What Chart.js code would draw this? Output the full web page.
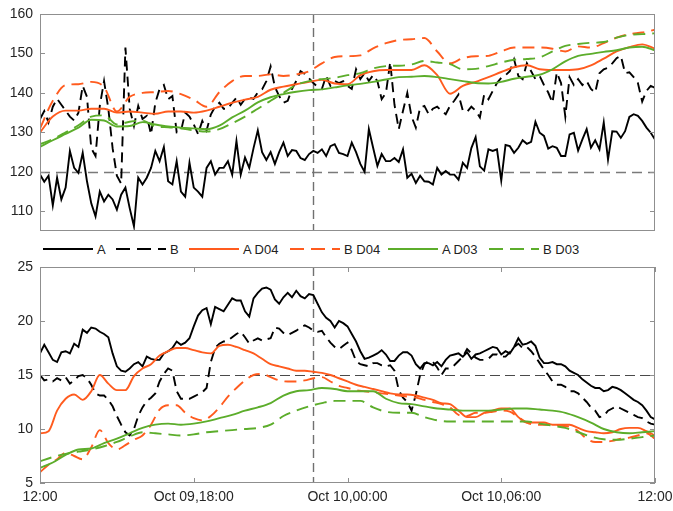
<!DOCTYPE html>
<html>
<head>
<meta charset="utf-8">
<script src="https://cdn.jsdelivr.net/npm/chart.js@4.4.1/dist/chart.umd.min.js"></script>
<style>
  body { margin: 0; background: #fff; }
  #wrap { position: relative; width: 673px; height: 511px; overflow: hidden; }
  canvas { position: absolute; left: 0; }
  #top { top: 0; }
  #bottom { top: 258px; }
  #legend { position: absolute; top: 240px; left: 0; width: 673px; height: 18px;
            font: 13px "Liberation Sans", Arial, sans-serif; color: #222; }
  .item { position: absolute; top: 0; height: 18px; display: flex; align-items: center; white-space: nowrap; }
  .item svg { margin-right: 4px; }
</style>
</head>
<body>
<div id="wrap">
  <canvas id="top" width="673" height="240"></canvas>
  <div id="legend"></div>
  <canvas id="bottom" width="673" height="253"></canvas>
</div>
<script>
// time axis: hours after Oct 09 12:00
const xTickHours = [0, 6, 12, 18, 24];
const xTickLabels = ['12:00', 'Oct 09,18:00', 'Oct 10,00:00', 'Oct 10,06:00', '12:00'];
const topTicks = [110, 120, 130, 140, 150, 160];
const bottomTicks = [5, 10, 15, 20, 25];
const markerHour = 10.65;
const topRef = 120;
const bottomRef = 15;

// sample spacing (hours)
const rawStep = 1 / 6;
const smoothStep = 0.5;
const d04BottomStep = 1 / 3;

// upper panel
const topA = [
  119.3,117.5,119,111.5,118.5,113,116,125.3,121,119.7,
  124.8,117.6,112,108.7,115,112.5,114.2,113,110.4,114.2,
  116,110.8,106.2,118.5,116.8,118.5,121,125.3,122.7,126.3,
  117.6,116.8,122.7,115,113.7,122.3,116,115,113.7,121,
  122.7,119.3,121,121,122.7,119.3,127.8,119.3,123.6,121,
  126,130.5,125,123,125,122,125,127.4,124,125.5,
  125.3,123.5,123,124.5,125.3,124.8,125.7,124,126.5,127,
  124.8,124.5,124,127.4,125,122,120,130.8,126.1,121.5,
  124.5,122.7,122.7,123.5,122.5,125.7,118.5,119.5,117.2,119,
  117.6,117.5,116.8,121,119.3,120.2,119.3,119.3,118,122.3,
  121,126,128.8,121.4,120.3,125.7,125.3,125.7,117.8,126.8,
  126.5,124.8,126.1,128,127.1,127.6,132.7,129.9,129.1,125.9,
  126.5,126.1,124,124,129.5,129.9,125.4,128.2,130.8,126.1,
  128,125.7,132.5,123.1,130.3,130.2,128.6,130.3,133.9,134.6,
  134.2,132.9,131.2,129.9,128.2
];
const topB = [
  133.4,135.4,132.5,136.5,138.5,137,135.5,134,133,135,
  141.8,139,126,124,136.7,143,136,126,119,117,
  151.5,136,131.6,136.7,133.4,134.2,129.5,137.5,141,142,
  138.4,139.2,130,130.3,135,134,132,129.6,132.9,130.5,
  134.5,136.5,137.5,136,136,137.5,138.8,137,138.5,138.8,
  138.5,140.1,140.9,143,146.7,141.5,139.2,137.5,138,141,
  143,145.5,144.8,143.7,142.5,141.5,141,144.3,141.8,143,
  142.5,143,141.8,141,146,143.5,145,143,144.5,143,
  138.4,140,147.8,137,130.8,135.5,140,134,131.2,136.3,
  136.7,134.6,136,136.5,135.5,134.6,136.7,138,139.6,135.5,
  135.2,136.5,135.5,133.8,139.6,138.4,140.5,142.5,143.8,144.5,
  145.5,148.5,144.3,143.5,147.5,145.5,143.5,144.3,142,140.1,
  137.5,145.2,142.5,134,144,142,143.5,142,143,141,
  140.1,145,146,146.4,147.5,148.8,149.4,145,145.2,144,
  142.5,137.8,140.5,141.8,141.3
];
const topAD04 = [
  130,134,135.5,135.5,136,136,135,135.3,135,134.7,
  135.3,135.3,135,135.5,136.5,137.5,138.3,139,140.8,141.6,
  142.2,142.8,143.3,142.4,142.2,144.5,145.5,145.8,145.8,145.8,
  147,144.5,139.8,141.8,142.8,144,145.3,146.5,147,146,
  145.8,145.8,146,147,148.7,150.5,151.6,152.3,151.2
];
const topBD04 = [
  131,138,142,142.2,142.8,141.5,135.3,139,140,140.2,
  140.5,139.7,138.3,136.5,140.2,143,144.3,144.3,144.7,144.3,
  144.7,145.5,147.5,149.1,149.3,149.5,151.3,152.6,153.4,153.6,
  153.9,150.5,147.5,148.8,149.3,149.4,150.5,151.5,151.5,151.5,
  151.2,150.5,151.8,151.5,152.6,154,154.9,155.3,156
];
const topAD03 = [
  126.3,128,129.6,131.2,133.2,133,131.5,131.6,132.6,132,
  131.5,131.2,131,130.8,131.7,133.8,135.5,137.6,138.9,139.7,
  140.3,140.7,140.9,141.4,141.9,142.3,142.8,143.4,144,144.1,
  144.3,144,143.5,143,142.5,142.4,142.8,143.6,144.1,144.6,
  146,148,149.4,149.9,150.4,150.8,151.5,151.7,150.8
];
const topBD03 = [
  127,128.3,130,131.8,134,134.3,132,132.7,133,131.5,
  131.3,131,130.5,130.2,130.8,132.3,134,136,138,140,
  142,143,143.5,143.8,144.5,145,146.2,146.8,146.9,147.2,
  148.1,147.7,147.3,146,146.1,146.8,147.7,148.4,148.6,149,
  150.5,151.9,152.4,152.7,152.9,154,154.7,154.9,155.1
];

// lower panel
const botA = [
  17,17.8,17.1,16.4,16.2,17.1,17.2,17,17.9,17.6,
  19.2,18.9,19.4,19.3,19,18.8,18.5,17,15.8,15.4,
  15.3,15.6,16,16.2,15.8,16.7,16.5,16.4,16.4,17,
  17.2,17.5,18.1,17.8,18,18.4,19.5,20.5,21,21.2,
  19.7,21.3,21.1,20.9,21.5,22.1,21.9,21.9,20.9,20.4,
  22.1,22.6,23,23.1,22.9,22,21.6,22.2,22.6,22.2,
  22.8,22.3,22.1,22.5,22.4,21.6,20.8,20.3,20,19.4,
  20,19.8,19.5,18.8,18.1,17.2,16.5,16.6,16.8,17,
  17.3,16.9,16.3,16.3,16.8,17.1,17.1,16.8,16,15.6,
  16.1,16.1,15.9,16.2,15.8,16.4,16.8,16.9,17,16.7,
  17.1,16.5,16.9,17,17.2,17.4,17.6,17.5,16.9,17.2,
  17,17.6,18.4,17.8,17.9,18.1,17.7,16.6,16.1,16.1,
  16.2,16,16,15.8,15.4,15.2,15,14.6,14.3,14,
  13.8,13.8,13.5,13.6,13.9,13.8,13.6,13.3,13,12.7,
  12.5,12.2,11.7,11.1,10.9
];
const botB = [
  15,14.5,14.6,14.4,14.7,14.5,14.8,14.2,14.5,14.9,
  15,14.7,14.1,13.3,13.1,13.1,12.7,12.1,11.2,10.4,
  9.7,9.4,10,11.2,12,12.6,12.9,13.3,14.4,15.1,
  15.6,15.4,13.5,12.8,12.8,12.8,13,13.2,13.4,13.8,
  16.2,17.5,17.9,18.1,18.2,18.5,18.8,19,18.5,17.9,
  18.2,18.4,18.2,18.3,18.4,19.4,19.3,18.9,18.7,18.9,
  19.1,19.4,19.6,19.4,19.1,19,19.1,18.5,18,17.6,
  17.4,17.7,18,17.3,16.3,16,15.9,15.8,16.1,16.1,
  15.9,15.8,15.9,15.4,13.6,12.9,12.5,11.7,13.2,15,
  16,16.3,16.2,15.7,15,15.6,15.6,15.9,16.3,16.7,
  17.4,17,16.6,16.4,16.4,16.5,16.9,16.9,16.7,16.7,
  17.1,17.6,17.9,17.5,17.6,17.2,16.7,16.1,15.5,15,
  14.4,14.1,14.1,13.9,13.5,13.5,13.3,12.9,12.5,12,
  11.7,11.1,11.2,11.7,11.9,12.1,11.9,11.7,11.5,11.3,
  11.1,11,10.7,10.5,10.4
];
const botAD04 = [
  9.6,9.8,11.7,12.8,13.2,12.7,13.5,15,14.2,13.6,
  13.6,14.9,15.6,16,16.8,17.2,17.5,17.5,17.3,17.1,
  17,17.7,17.8,17.6,17.3,17,16.5,16,15.8,15.6,
  15.4,15.4,15.3,15.2,15,14.7,14.4,14.1,13.9,13.7,
  13.5,13.3,13.2,13.2,13.1,12.9,12.7,12.4,12.3,11.7,
  11.1,11.1,11.5,11.7,11.9,11.9,11.1,10.6,10.6,10.6,
  10.4,10.4,10.4,10.1,9.8,9.7,9.6,9.7,10,10.1,
  10.1,9.8,9.4
];
const botBD04 = [
  6,6.7,7.2,7.8,7.5,7.2,8.3,9.9,8.7,8.1,
  8.5,9,9.4,10.4,11.8,12.2,12.2,11.5,11,10.8,
  11.2,12,13,13.8,14.5,15,15.1,14.8,14.5,14.4,
  14.4,14.5,14.7,14.8,14.4,14,13.8,13.6,13.5,13.4,
  13.3,13.2,13.1,13,12.9,12.7,12.5,12.3,12,11.3,
  11.2,11.5,11.5,11.6,11.7,11.6,11.1,10.6,10.4,10.4,
  10.4,10.3,10.2,9.8,9.1,8.8,8.8,8.9,9.1,9.2,
  9.4,9.6,9.1
];
const botAD03 = [
  6.4,6.9,7.6,8.1,8.2,8.7,9.1,9.6,10.1,10.4,
  10.5,10.4,10.5,10.7,11,11.3,11.7,12,12.4,13.1,
  13.5,13.6,13.8,13.7,13.5,13.5,13.5,12.8,12.4,12.3,
  12.1,11.9,11.8,11.7,11.7,11.7,11.8,11.9,11.9,11.8,
  11.7,11.5,11.1,10.6,10,9.7,9.6,9.7,9.8
];
const botBD03 = [
  7,7.4,7.7,7.9,8.1,8.4,8.8,9.3,9.7,9.6,
  9.5,9.4,9.5,9.7,9.8,9.9,10,10.1,10.4,11.2,
  11.7,12.1,12.4,12.6,12.6,12.6,12,11.6,11.5,11.5,
  11.1,10.8,10.7,10.7,10.7,10.7,10.7,10.7,10.7,10.5,
  10.3,10.1,9.7,9.3,9.05,9,9.1,9.25,9.4
];

const BLACK = '#000000';
const ORANGE = '#ff5b1e';
const GREEN = '#5cad2b';
const RAW_DASH = [10, 6];
const SMOOTH_DASH = [12, 7];
const FONT = '"Liberation Sans", Arial, sans-serif';

const legendItems = [
  { label: 'A', color: BLACK, dash: '', x: 43 },
  { label: 'B', color: BLACK, dash: '14 7', x: 116 },
  { label: 'A D04', color: ORANGE, dash: '', x: 189 },
  { label: 'B D04', color: ORANGE, dash: '14 7', x: 290 },
  { label: 'A D03', color: GREEN, dash: '', x: 388 },
  { label: 'B D03', color: GREEN, dash: '14 7', x: 489 }
];

function pts(values, step) {
  return values.map((v, i) => ({ x: i * step, y: v }));
}

function line(label, data, color, dash, order, smooth) {
  return {
    label, data,
    borderColor: color,
    borderWidth: 1.9,
    borderDash: dash,
    pointRadius: 0,
    fill: false,
    order,
    tension: smooth ? 0.4 : 0,
    cubicInterpolationMode: smooth ? 'monotone' : 'default'
  };
}

function panelSets(a, b, a04, b04, step04, a03, b03) {
  return [
    line('A', pts(a, rawStep), BLACK, [], 6, false),
    line('B', pts(b, rawStep), BLACK, RAW_DASH, 5, false),
    line('A D04', pts(a04, step04), ORANGE, [], 4, true),
    line('B D04', pts(b04, step04), ORANGE, SMOOTH_DASH, 3, true),
    line('A D03', pts(a03, smoothStep), GREEN, [], 2, true),
    line('B D03', pts(b03, smoothStep), GREEN, SMOOTH_DASH, 1, true)
  ];
}

// reference lines, box frame and inward tick marks
const boxPlugin = {
  id: 'box',
  beforeDatasetsDraw(chart) {
    const o = chart.options.plugins.box;
    const { ctx, chartArea: a, scales: { x, y } } = chart;
    ctx.save();
    ctx.beginPath();
    ctx.rect(a.left, a.top, a.width, a.height);
    ctx.clip();
    ctx.strokeStyle = o.refColor;
    ctx.lineWidth = o.refWidth;
    ctx.setLineDash(o.refDash);
    const yy = Math.round(y.getPixelForValue(o.refY)) + 0.5;
    ctx.beginPath(); ctx.moveTo(a.left, yy); ctx.lineTo(a.right, yy); ctx.stroke();
    ctx.strokeStyle = '#707070';
    ctx.lineWidth = 1.4;
    ctx.setLineDash([9, 5]);
    const xx = Math.round(x.getPixelForValue(markerHour)) + 0.5;
    ctx.beginPath(); ctx.moveTo(xx, a.top); ctx.lineTo(xx, a.bottom); ctx.stroke();
    ctx.restore();
  },
  afterDatasetsDraw(chart) {
    const o = chart.options.plugins.box;
    const { ctx, chartArea: a, scales: { x, y } } = chart;
    ctx.save();
    ctx.strokeStyle = '#8f8f8f';
    ctx.lineWidth = 1;
    ctx.strokeRect(a.left + 0.5, a.top + 0.5, a.width - 1, a.height - 1);
    ctx.beginPath();
    o.yTicks.forEach(v => {
      const py = Math.round(y.getPixelForValue(v)) + 0.5;
      ctx.moveTo(a.left, py); ctx.lineTo(a.left + 5, py);
      ctx.moveTo(a.right, py); ctx.lineTo(a.right - 5, py);
    });
    (o.xTicks || []).forEach(v => {
      const px = Math.round(x.getPixelForValue(v)) + 0.5;
      ctx.moveTo(px, a.top); ctx.lineTo(px, a.top + 5);
      ctx.moveTo(px, a.bottom); ctx.lineTo(px, a.bottom - 5);
    });
    ctx.stroke();
    ctx.restore();
  }
};

function yAxis(min, max, ticks) {
  return {
    min, max,
    grid: { display: false, drawTicks: false },
    border: { display: false },
    afterBuildTicks: s => { s.ticks = ticks.map(v => ({ value: v })); },
    afterFit: s => { s.width = 40; s.paddingTop = 0; s.paddingBottom = 0; },
    ticks: { padding: 7, color: '#262626', font: { family: FONT, size: 14 } }
  };
}

const common = {
  responsive: false,
  animation: false,
  devicePixelRatio: 1,
  events: []
};

new Chart(document.getElementById('top'), {
  type: 'line',
  data: { datasets: panelSets(topA, topB, topAD04, topBD04, smoothStep, topAD03, topBD03) },
  options: {
    ...common,
    layout: { padding: { left: 0, right: 18, top: 14, bottom: 9 } },
    plugins: {
      legend: { display: false },
      tooltip: { enabled: false },
      box: { refY: topRef, refColor: '#7a7a7a', refWidth: 1.3, refDash: [10, 6], yTicks: topTicks }
    },
    scales: {
      x: { type: 'linear', min: 0, max: 24, display: false },
      y: yAxis(105, 160, topTicks)
    }
  },
  plugins: [boxPlugin]
});

new Chart(document.getElementById('bottom'), {
  type: 'line',
  data: { datasets: panelSets(botA, botB, botAD04, botBD04, d04BottomStep, botAD03, botBD03) },
  options: {
    ...common,
    layout: { padding: { left: 0, right: 18, top: 9, bottom: 0 } },
    plugins: {
      legend: { display: false },
      tooltip: { enabled: false },
      box: { refY: bottomRef, refColor: '#4a4a4a', refWidth: 1, refDash: [10, 5], yTicks: bottomTicks, xTicks: xTickHours }
    },
    scales: {
      x: {
        type: 'linear', min: 0, max: 24,
        grid: { display: false, drawTicks: false },
        border: { display: false },
        afterBuildTicks: s => { s.ticks = xTickHours.map(v => ({ value: v })); },
        afterFit: s => { s.height = 28; s.paddingLeft = 0; s.paddingRight = 0; },
        ticks: {
          autoSkip: false, maxRotation: 0, padding: 6,
          color: '#262626', font: { family: FONT, size: 14 },
          callback: (v, i) => xTickLabels[i]
        }
      },
      y: yAxis(5, 25, bottomTicks)
    }
  },
  plugins: [boxPlugin]
});

// legend row between the panels
const legend = document.getElementById('legend');
legendItems.forEach(it => {
  const el = document.createElement('div');
  el.className = 'item';
  el.style.left = it.x + 'px';
  el.innerHTML = `<svg width="50" height="4"><line x1="0" y1="2" x2="50" y2="2" stroke="${it.color}" stroke-width="1.9" ${it.dash ? `stroke-dasharray="${it.dash}"` : ''}/></svg><span>${it.label}</span>`;
  legend.appendChild(el);
});
</script>
</body>
</html>
